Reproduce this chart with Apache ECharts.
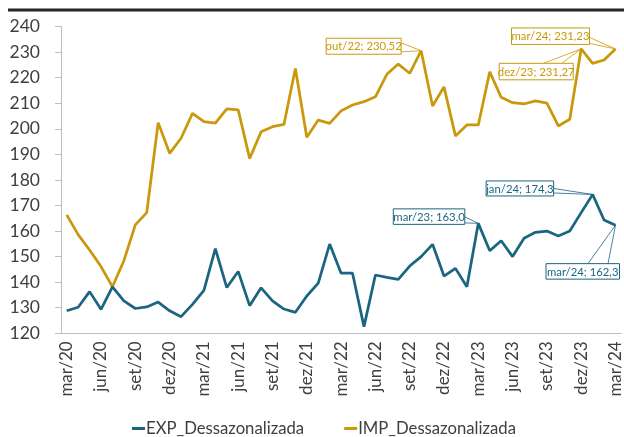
<!DOCTYPE html>
<html>
<head>
<meta charset="utf-8">
<script src="https://cdn.jsdelivr.net/npm/echarts@6/dist/echarts.min.js"></script>
<style>
  html, body { margin: 0; padding: 0; background: #fff; }
  #chart { width: 624px; height: 437px; }
</style>
</head>
<body>
<div id="chart"></div>
<script>
// mar/20 .. mar/24, monthly
const months = [
  'mar/20', 'abr/20', 'mai/20', 'jun/20', 'jul/20', 'ago/20', 'set/20', 'out/20', 'nov/20', 'dez/20',
  'jan/21', 'fev/21', 'mar/21', 'abr/21', 'mai/21', 'jun/21', 'jul/21', 'ago/21', 'set/21', 'out/21', 'nov/21', 'dez/21',
  'jan/22', 'fev/22', 'mar/22', 'abr/22', 'mai/22', 'jun/22', 'jul/22', 'ago/22', 'set/22', 'out/22', 'nov/22', 'dez/22',
  'jan/23', 'fev/23', 'mar/23', 'abr/23', 'mai/23', 'jun/23', 'jul/23', 'ago/23', 'set/23', 'out/23', 'nov/23', 'dez/23',
  'jan/24', 'fev/24', 'mar/24',
]

const expValues = [
  128.8, 130.2, 136.3, 129.4, 138.2, 132.7, 129.7, 130.3, 132.2, 128.8,
  126.5, 131.3, 136.8, 153.1, 137.9, 144.2, 130.8, 137.8, 132.7, 129.5, 128.2, 134.6,
  139.6, 154.9, 143.5, 143.5, 122.6, 142.8, 141.9, 141.1, 146.3, 150.0, 154.8, 142.4,
  145.4, 138.2, 163.0, 152.3, 156.2, 150.0, 157.2, 159.5, 160.0, 158.1, 160.0, 167.2,
  174.3, 164.3, 162.3,
]

const impValues = [
  166.3, 158.6, 152.6, 146.1, 138.2, 148.4, 162.4, 167.2, 202.4, 190.4,
  196.3, 206.0, 202.8, 202.2, 207.8, 207.4, 188.4, 198.8, 200.8, 201.7, 223.6, 196.7,
  203.4, 202.1, 207.0, 209.3, 210.6, 212.5, 221.3, 225.3, 221.7, 230.52, 208.9, 216.4,
  197.2, 201.5, 201.5, 222.3, 212.3, 210.2, 209.7, 210.9, 210.0, 201.1, 203.7, 231.27,
  225.6, 226.9, 231.23,
]

const seriesNames = ['EXP_Dessazonalizada', 'IMP_Dessazonalizada']
const seriesColors = ['#1C6582', '#C9980B']

// labelled points: series, month index, text
const calloutPoints = [
  { s: 1, i: 31, text: 'out/22; 230,52' },
  { s: 1, i: 48, text: 'mar/24; 231,23' },
  { s: 1, i: 45, text: 'dez/23; 231,27' },
  { s: 0, i: 36, text: 'mar/23; 163,0' },
  { s: 0, i: 46, text: 'jan/24; 174,3' },
  { s: 0, i: 48, text: 'mar/24; 162,3' },
]
// box [dx, dy, w, h] and wedge base points, relative to the point
const calloutLayout = [
  { box: [-95, -12.5, 75, 16], wedge: [[-20, -8], [-20, 1]] },
  { box: [-104, -21, 78, 16.5], wedge: [[-26, -11.5], [-26, -5.5]] },
  { box: [-82, 14.5, 74, 16.5], wedge: [[-37.5, 14.5], [-19.5, 14.5]] },
  { box: [-85, -14.5, 71.5, 15.5], wedge: [[-13.5, -6.5], [-13.5, -0.5]] },
  { box: [-106.5, -13.5, 67.5, 15], wedge: [[-39, -6], [-39, -1.5]] },
  { box: [-69.5, 38.5, 73.5, 15.5], wedge: [[-27.5, 38.5], [-7.5, 38.5]] },
]

const FONT = 'Lato, "Open Sans", sans-serif'
const chart = echarts.init(document.getElementById('chart'))

const option = {
  animation: false,
  color: seriesColors,
  grid: {
    left: 61,
    right: 2.6,
    top: 26.5,
    bottom: 103.7,
    containLabel: false,
  },
  legend: {
    left: 127,
    top: 415,
    itemGap: 40,
    itemWidth: 13,
    itemHeight: 3,
    icon: 'rect',
    textStyle: {
      fontFamily: FONT,
      fontSize: 16.7,
      color: '#404040',
      padding: [0, 0, 0, -4],
    },
    data: seriesNames,
  },
  xAxis: {
    type: 'category',
    boundaryGap: true,
    data: months,
    axisLine: { lineStyle: { color: '#bfbfbf', width: 1 } },
    axisTick: { interval: 2, length: 6, lineStyle: { color: '#bfbfbf' } },
    axisLabel: {
      interval: 2,
      rotate: 90,
      margin: 8,
      fontFamily: FONT,
      fontSize: 17,
      color: '#404040',
    },
  },
  yAxis: {
    type: 'value',
    min: 120,
    max: 240,
    interval: 10,
    axisLine: { show: true, lineStyle: { color: '#bfbfbf', width: 1 } },
    axisTick: { show: true, length: 6, lineStyle: { color: '#bfbfbf' } },
    splitLine: { show: false },
    axisLabel: {
      margin: 21,
      fontFamily: FONT,
      fontSize: 17.5,
      color: '#404040',
    },
  },
  series: [
    {
      name: seriesNames[0],
      type: 'line',
      data: expValues,
      symbol: 'none',
      lineStyle: { width: 2.75, color: seriesColors[0] },
      itemStyle: { color: seriesColors[0] },
      z: 3,
    },
    {
      name: seriesNames[1],
      type: 'line',
      data: impValues,
      symbol: 'none',
      lineStyle: { width: 2.75, color: seriesColors[1] },
      itemStyle: { color: seriesColors[1] },
      z: 2,
    },
  ],
}
chart.setOption(option)

// callout boxes placed from the chart's own coordinates
const graphics = [
  {
    type: 'rect',
    shape: { x: 8, y: 8.5, width: 616, height: 3 },
    style: { fill: '#262626' },
  },
]
calloutPoints.forEach((c, n) => {
  const values = c.s === 0 ? expValues : impValues
  const p = chart.convertToPixel({ seriesIndex: c.s }, [c.i, values[c.i]])
  const lay = calloutLayout[n]
  const color = seriesColors[c.s]
  const [dx, dy, w, h] = lay.box
  graphics.push({
    type: 'polyline',
    z: 100,
    shape: {
      points: [
        [p[0] + lay.wedge[0][0], p[1] + lay.wedge[0][1]],
        [p[0], p[1]],
        [p[0] + lay.wedge[1][0], p[1] + lay.wedge[1][1]],
      ],
    },
    style: { stroke: color, fill: null, lineWidth: 0.8 },
  })
  graphics.push({
    type: 'rect',
    z: 101,
    shape: { x: p[0] + dx, y: p[1] + dy, width: w, height: h },
    style: { fill: '#fff', stroke: color, lineWidth: 1 },
  })
  graphics.push({
    type: 'text',
    z: 102,
    style: {
      text: c.text,
      x: p[0] + dx + w / 2,
      y: p[1] + dy + h / 2 + 0.5,
      align: 'center',
      verticalAlign: 'middle',
      fill: color,
      font: '11.3px ' + FONT,
    },
  })
})
chart.setOption({ graphic: graphics })
</script>
</body>
</html>
